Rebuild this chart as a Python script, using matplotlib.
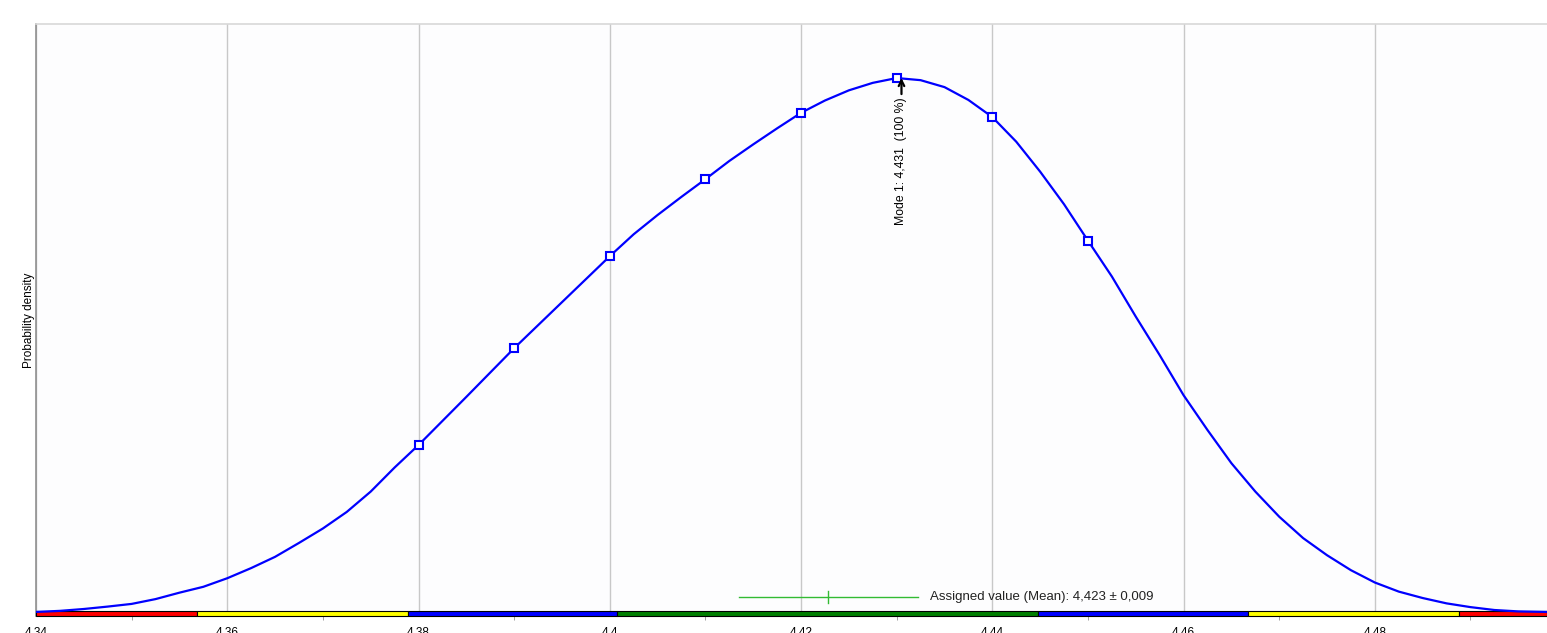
import numpy as np
import matplotlib.pyplot as plt
from matplotlib.patches import Rectangle
import matplotlib.transforms as mtransforms

plt.rcParams["font.family"] = ["Liberation Sans", "DejaVu Sans"]

# density curve (relative, peak = 1)
x_vals = [4.3400, 4.3425, 4.3450, 4.3475, 4.3500, 4.3525, 4.3550, 4.3575,
          4.3600, 4.3625, 4.3650, 4.3675, 4.3700, 4.3725, 4.3750, 4.3775,
          4.3800, 4.3850, 4.3900, 4.3950, 4.4000, 4.4025, 4.4050, 4.4075,
          4.4100, 4.4125, 4.4150, 4.4175, 4.4200, 4.4225, 4.4250, 4.4275,
          4.4300, 4.4325, 4.4350, 4.4375, 4.4400, 4.4425, 4.4450, 4.4475,
          4.4500, 4.4525, 4.4550, 4.4575, 4.4600, 4.4625, 4.4650, 4.4675,
          4.4700, 4.4725, 4.4750, 4.4775, 4.4800, 4.4825, 4.4850, 4.4875,
          4.4900, 4.4925, 4.4950, 4.4980]
dens = [0.002, 0.004, 0.0075, 0.012, 0.017, 0.026, 0.038, 0.049,
        0.065, 0.084, 0.105, 0.131, 0.158, 0.189, 0.227, 0.272,
        0.314, 0.404, 0.495, 0.581, 0.667, 0.708, 0.744, 0.778,
        0.811, 0.845, 0.876, 0.906, 0.935, 0.958, 0.977, 0.991,
        1.000, 0.996, 0.983, 0.959, 0.927, 0.881, 0.825, 0.764,
        0.696, 0.629, 0.554, 0.482, 0.407, 0.342, 0.280, 0.227,
        0.180, 0.140, 0.108, 0.080, 0.057, 0.040, 0.028, 0.018,
        0.011, 0.0056, 0.003, 0.002]

# square markers on the curve
mark_x = [4.38, 4.39, 4.40, 4.41, 4.42, 4.43, 4.44, 4.45]

# assigned value
mean_val = 4.4228
mean_lo, mean_hi = 4.4135, 4.4322
mode_x = 4.4305
mode_label = "Mode 1: 4,431  (100 %)"
assigned_label = "Assigned value (Mean): 4,423 \u00b1 0,009"

# colour band under the axis
band_edges = [4.340, 4.3568, 4.3789, 4.4008, 4.4448, 4.4667, 4.4888, 4.498]
band_colors = ["#ff0000", "#ffff00", "#0000ff", "#007f00", "#0000ff", "#ffff00", "#ff0000"]

xticks = [4.34, 4.36, 4.38, 4.40, 4.42, 4.44, 4.46, 4.48]
xtick_labels = ["4.34", "4.36", "4.38", "4.4", "4.42", "4.44", "4.46", "4.48"]
xminor = [4.35, 4.37, 4.39, 4.41, 4.43, 4.45, 4.47, 4.49]

W, H = 1547, 633
fig = plt.figure(figsize=(W / 100, H / 100), dpi=100)
ax = fig.add_axes([36 / W, (H - 616) / H, 1 - 36 / W, (616 - 24) / H])
ax.set_facecolor("#fdfdfe")

ax.set_xlim(4.34, 4.498)
ax.set_ylim(-0.0056, 1.101)

ax.set_xticks(xticks)
ax.set_xticklabels(xtick_labels)
ax.set_xticks(xminor, minor=True)
ax.tick_params(axis="x", which="major", length=0, pad=8, labelsize=8.5)
ax.tick_params(axis="x", which="minor", length=3, color="#909090")
ax.set_yticks([])
ax.grid(axis="x", which="major", color="#c8c8c8", lw=1.0)
ax.set_axisbelow(True)

for s in ["right", "bottom"]:
    ax.spines[s].set_visible(False)
ax.spines["left"].set_color("#909090")
ax.spines["left"].set_linewidth(1.2)
ax.spines["top"].set_color("#d8d8d8")
ax.spines["top"].set_linewidth(1.2)

ax.set_ylabel("Probability density", fontsize=8.5, labelpad=1)

# band
trans = mtransforms.blended_transform_factory(ax.transData, ax.transAxes)
band_h = 5 / 592
for i, c in enumerate(band_colors):
    r = Rectangle((band_edges[i], 0), band_edges[i + 1] - band_edges[i], band_h,
                  transform=trans, facecolor=c, edgecolor="black", lw=0.8,
                  clip_on=False, zorder=3)
    ax.add_patch(r)

# curve
ax.plot(x_vals, dens, color="#0000ff", lw=1.6, zorder=4, solid_joinstyle="round")
mark_y = [dens[int(np.argmin(np.abs(np.array(x_vals) - m)))] for m in mark_x]
ax.plot(mark_x, mark_y, ls="none", marker="s", ms=5.5, mfc="white",
        mec="#0000ff", mew=1.5, zorder=5)

# mode annotation
peak = max(dens)
ax.annotate("", xy=(mode_x, peak), xytext=(mode_x, peak - 0.03),
            arrowprops=dict(arrowstyle="->", color="black", lw=1.6,
                            shrinkA=0, shrinkB=0), zorder=6)
ax.text(mode_x, peak - 0.037, mode_label, rotation=90, ha="center", va="top",
        fontsize=8.8, color="black", zorder=6)

# assigned value error bar
y_err = (613 - 597) / 535
ax.plot([mean_lo, mean_hi], [y_err, y_err], color="#33bb33", lw=1.0, zorder=4)
ax.plot([mean_val, mean_val], [y_err - 0.011, y_err + 0.011],
        color="#33bb33", lw=1.0, zorder=4)
ax.text(4.4335, y_err, assigned_label, ha="left", va="center",
        fontsize=9.5, color="#222222", zorder=6)

plt.savefig("out.png", dpi=100)
plt.close(fig)
